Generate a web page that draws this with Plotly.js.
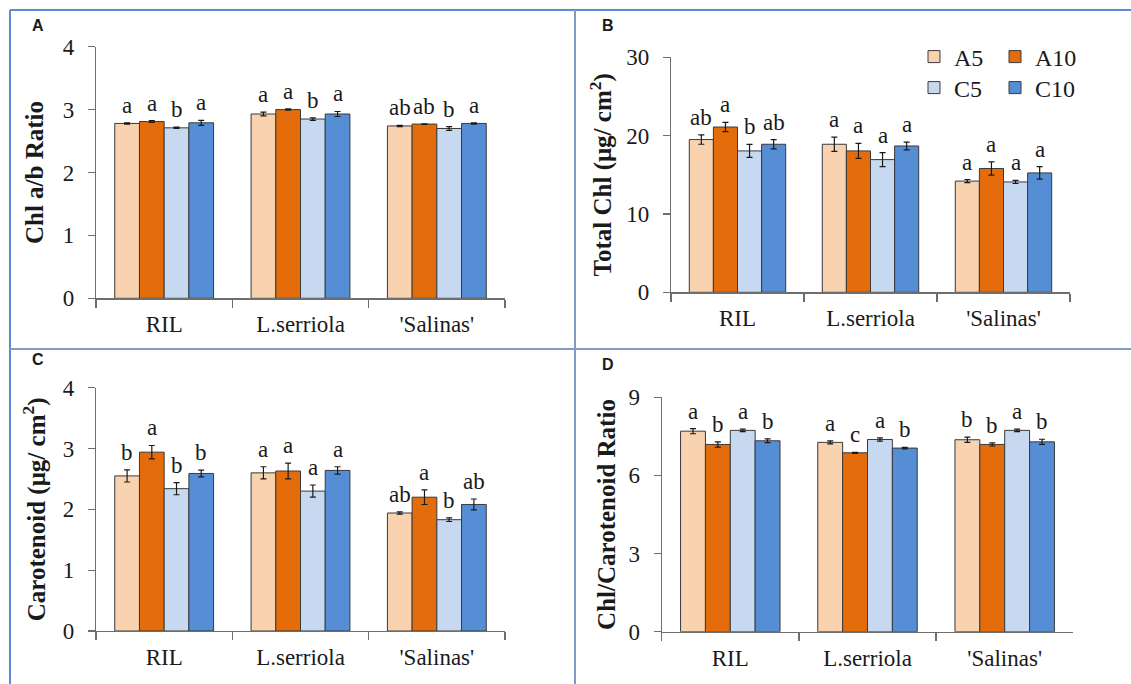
<!DOCTYPE html>
<html>
<head>
<meta charset="utf-8">
<script src="https://cdn.plot.ly/plotly-3.0.1.min.js"></script>
<style>html,body{margin:0;padding:0;background:#fff;}#chart{width:1131px;height:684px;}</style>
</head>
<body>
<div id="chart"></div>
<script>
// ---------------- DATA ----------------
const categories = ['RIL', 'L.serriola', "'Salinas'"];
const series = ['A5', 'A10', 'C5', 'C10'];

// Panel A: Chl a/b ratio (rows = series A5, A10, C5, C10; cols = categories)
const abRatio        = [[2.78, 2.93, 2.74], [2.81, 3.00, 2.77], [2.71, 2.85, 2.70], [2.79, 2.93, 2.78]];
const abRatioErr     = [[0.01, 0.03, 0.01], [0.015, 0.01, 0.005], [0.01, 0.02, 0.03], [0.04, 0.04, 0.01]];
const abRatioLetters = [['a', 'a', 'ab'], ['a', 'a', 'ab'], ['b', 'b', 'b'], ['a', 'a', 'a']];

// Panel B: Total Chl (µg/cm2)
const totalChl        = [[19.5, 18.9, 14.2], [21.1, 18.05, 15.8], [18.05, 16.94, 14.09], [18.9, 18.68, 15.24]];
const totalChlErr     = [[0.6, 0.9, 0.2], [0.6, 0.95, 0.85], [0.83, 0.9, 0.2], [0.6, 0.5, 0.8]];
const totalChlLetters = [['ab', 'a', 'a'], ['a', 'a', 'a'], ['b', 'a', 'a'], ['ab', 'a', 'a']];

// Panel C: Carotenoid (µg/cm2)
const carotenoid        = [[2.55, 2.60, 1.94], [2.94, 2.63, 2.20], [2.34, 2.30, 1.83], [2.59, 2.64, 2.08]];
const carotenoidErr     = [[0.10, 0.10, 0.02], [0.11, 0.13, 0.12], [0.10, 0.10, 0.03], [0.055, 0.06, 0.09]];
const carotenoidLetters = [['b', 'a', 'ab'], ['a', 'a', 'a'], ['b', 'a', 'b'], ['b', 'a', 'ab']];

// Panel D: Chl/Carotenoid ratio
const chlCarRatio        = [[7.70, 7.27, 7.37], [7.19, 6.87, 7.19], [7.73, 7.38, 7.73], [7.33, 7.05, 7.29]];
const chlCarRatioErr     = [[0.10, 0.06, 0.10], [0.10, 0.02, 0.06], [0.05, 0.06, 0.05], [0.07, 0.03, 0.10]];
const chlCarRatioLetters = [['a', 'a', 'b'], ['b', 'c', 'b'], ['a', 'a', 'a'], ['b', 'b', 'b']];

const yTickVals = {A: [0, 1, 2, 3, 4], B: [0, 10, 20, 30], C: [0, 1, 2, 3, 4], D: [0, 3, 6, 9]};

// ---------------- STYLE ----------------
const colors = ['#f9d2b0', '#e46c0a', '#c6d9f1', '#558ed5'];
const serif = 'Liberation Serif';
const W = 1131, H = 684;
const bargap = 0.275;

const panels = [
  {id: 'A', xa: 'x',  ya: 'y',  vals: abRatio,     errs: abRatioErr,     letters: abRatioLetters,
   title: 'Chl a/b Ratio', xpx: [96, 505], ypx: [298.3, 46.7], range: [0, 4], standoff: 12, label: [38, 25]},
  {id: 'B', xa: 'x2', ya: 'y2', vals: totalChl,    errs: totalChlErr,    letters: totalChlLetters,
   title: 'Total Chl (μg/ cm<sup>2</sup>)', xpx: [671, 1070], ypx: [292.3, 57.3], range: [0, 30], standoff: 7, label: [608, 25]},
  {id: 'C', xa: 'x3', ya: 'y3', vals: carotenoid,  errs: carotenoidErr,  letters: carotenoidLetters,
   title: 'Carotenoid (μg/ cm<sup>2</sup>)', xpx: [96, 505], ypx: [631, 387.7], range: [0, 4], standoff: 10, label: [38, 359]},
  {id: 'D', xa: 'x4', ya: 'y4', vals: chlCarRatio, errs: chlCarRatioErr, letters: chlCarRatioLetters,
   title: 'Chl/Carotenoid Ratio', xpx: [661.7, 1073.3], ypx: [631.7, 397.3], range: [0, 9], standoff: 5, label: [608, 365]}
];

const traces = [];
const annotations = [];
const txtFont = (size, weight) => ({family: serif, size: size, color: '#1a1a1a', weight: weight || 'normal'});
const legendBase = {xanchor: 'left', yanchor: 'middle', orientation: 'h',
                    font: txtFont(24), bgcolor: 'rgba(0,0,0,0)',
                    entrywidth: 36, entrywidthmode: 'pixels', itemwidth: 30, tracegroupgap: 0};
const layout = {
  width: W, height: H,
  margin: {l: 0, r: 0, t: 0, b: 0},
  paper_bgcolor: '#ffffff', plot_bgcolor: 'rgba(0,0,0,0)',
  barmode: 'group', bargap: bargap, bargroupgap: 0,
  font: txtFont(22),
  showlegend: true,
  legend: Object.assign({x: 914 / W, y: 1 - 57 / H}, legendBase),
  legend2: Object.assign({x: 914 / W, y: 1 - 88 / H}, legendBase),
  annotations: annotations,
  shapes: []
};

const barW = (1 - bargap) / series.length;

panels.forEach((p, pi) => {
  const xKey = 'xaxis' + (pi === 0 ? '' : pi + 1);
  const yKey = 'yaxis' + (pi === 0 ? '' : pi + 1);
  layout[xKey] = {
    domain: [p.xpx[0] / W, p.xpx[1] / W],
    anchor: p.ya,
    type: 'category',
    range: [-0.5, 2.5],
    showline: true, linecolor: '#6e6e6e', linewidth: 1.2,
    ticks: 'outside', tickson: 'boundaries', ticklen: 8, tickcolor: '#6e6e6e', tickwidth: 1.2,
    tickfont: txtFont(23),
    ticklabelstandoff: 5,
    showgrid: false, zeroline: false, fixedrange: true
  };
  layout[yKey] = {
    domain: [1 - p.ypx[0] / H, 1 - p.ypx[1] / H],
    anchor: p.xa,
    range: p.range,
    tickvals: yTickVals[p.id],
    showline: true, linecolor: '#6e6e6e', linewidth: 1.2,
    ticks: 'outside', ticklen: 7, tickcolor: '#6e6e6e', tickwidth: 1.2,
    tickfont: txtFont(23),
    ticklabelstandoff: 9,
    showgrid: false, zeroline: false, fixedrange: true,
    title: {text: p.title, font: txtFont(25, 'bold'), standoff: p.standoff}
  };

  series.forEach((s, si) => {
    traces.push({
      type: 'bar',
      name: s,
      x: categories,
      y: p.vals[si],
      xaxis: p.xa, yaxis: p.ya,
      marker: {color: colors[si], line: {color: '#3a3a3a', width: 1}},
      error_y: {type: 'data', array: p.errs[si], visible: true, color: '#1a1a1a', thickness: 1.2, width: 3},
      showlegend: pi === 1,
      legend: si < 2 ? 'legend' : 'legend2',
      legendgroup: s,
      hoverinfo: 'skip'
    });
    categories.forEach((c, ci) => {
      annotations.push({
        xref: p.xa, yref: p.ya,
        x: ci + (si - (series.length - 1) / 2) * barW,
        y: p.vals[si][ci] + p.errs[si][ci],
        text: p.letters[si][ci],
        showarrow: false, xanchor: 'center', yanchor: 'bottom', yshift: 3,
        font: txtFont(23)
      });
    });
  });

  annotations.push({
    xref: 'paper', yref: 'paper',
    x: p.label[0] / W, y: 1 - p.label[1] / H,
    text: '<b>' + p.id + '</b>', showarrow: false, xanchor: 'center', yanchor: 'middle',
    font: {family: 'Liberation Sans', size: 16, color: '#1a1a1a'}
  });
});

// panel frame lines
const frame = '#5b8bd3', divider = '#7f9cc2';
layout.shapes.push(
  {type: 'line', xref: 'paper', yref: 'paper', x0: 10 / W, x1: 1, y0: 1 - 10 / H, y1: 1 - 10 / H, line: {color: frame, width: 2}},
  {type: 'line', xref: 'paper', yref: 'paper', x0: 10 / W, x1: 10 / W, y0: 0, y1: 1 - 10 / H, line: {color: frame, width: 2}},
  {type: 'line', xref: 'paper', yref: 'paper', x0: 575 / W, x1: 575 / W, y0: 0, y1: 1 - 10 / H, line: {color: divider, width: 2}},
  {type: 'line', xref: 'paper', yref: 'paper', x0: 10 / W, x1: 1, y0: 1 - 349 / H, y1: 1 - 349 / H, line: {color: divider, width: 2}}
);

Plotly.newPlot('chart', traces, layout, {displayModeBar: false, staticPlot: true});
</script>
</body>
</html>
